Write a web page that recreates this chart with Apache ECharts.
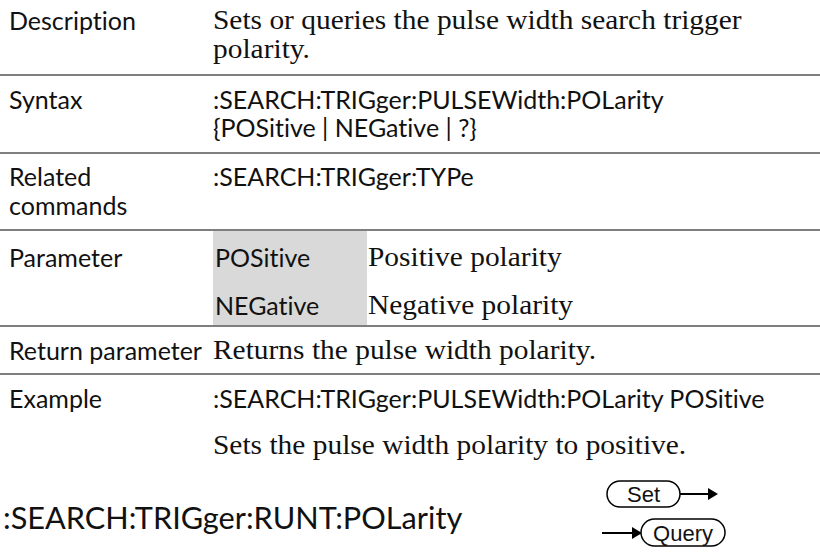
<!DOCTYPE html>
<html><head><meta charset="utf-8">
<script src="https://cdn.jsdelivr.net/npm/echarts@6/dist/echarts.min.js"></script>
<style>html,body{margin:0;padding:0;background:#fff}#c{width:820px;height:552px}
svg text{font-variant-ligatures:none !important;font-feature-settings:"liga" 0,"clig" 0 !important}</style>
</head><body><div id="c"></div>
<script>
// ---- content ----
const rowLabels = [["Description"], ["Syntax"], ["Related", "commands"], ["Parameter"], ["Return parameter"], ["Example"]];
const descLines = ["Sets or queries the pulse width search trigger", "polarity."];
const syntaxLines = [":SEARCH:TRIGger:PULSEWidth:POLarity", "{POSitive | NEGative | ?}"];
const relatedLines = [":SEARCH:TRIGger:TYPe"];
const paramNames = ["POSitive", "NEGative"];
const paramDescs = ["Positive polarity", "Negative polarity"];
const returnLines = ["Returns the pulse width polarity."];
const exampleCmd = [":SEARCH:TRIGger:PULSEWidth:POLarity POSitive"];
const exampleDesc = ["Sets the pulse width polarity to positive."];
const nextTitle = ":SEARCH:TRIGger:RUNT:POLarity";
const badges = ["Set", "Query"];

// ---- layout ----
const SANS = "Lato, sans-serif";
const SERIF = "'Liberation Serif', serif";
const sansFont = "25px " + SANS;
const serifFont = "27px " + SERIF;
const SERIF_SX = 1.09;
const SERIF_DY = -1.5, SANS_DY = -1;
const col1 = 9, col2 = 213, col3 = 368;
const els = [];
function txt(s, x, y, font, sx, align) {
  els.push({ type: 'text', z: 10, x: x, y: y, scaleX: sx || 1,
    style: { text: s, x: 0, y: 0, font: font, fill: '#111', verticalAlign: 'middle', align: align || 'left' } });
}
function serif(s, x, y) { txt(s, x, y + SERIF_DY, serifFont, SERIF_SX); }
function sans(s, x, y) { txt(s, x, y + SANS_DY, sansFont); }
function hline(y) {
  els.push({ type: 'line', z: 5, shape: { x1: 0, y1: y, x2: 820, y2: y }, style: { stroke: '#7f7f7f', lineWidth: 2 } });
}
const rowLabelY = [[21, 50], [100, 128], [177, 206], [258], [351], [399]];
rowLabels.forEach((ls, i) => ls.forEach((l, j) => sans(l, col1, rowLabelY[i][j])));
descLines.forEach((l, j) => serif(l, col2, rowLabelY[0][j]));
syntaxLines.forEach((l, j) => sans(l, col2, rowLabelY[1][j]));
relatedLines.forEach((l, j) => sans(l, col2, rowLabelY[2][j]));
const paramY = [258, 306];
paramNames.forEach((p, k) => {
  els.push({ type: 'rect', z: 1, shape: { x: 213, y: k === 0 ? 231 : 282, width: 154, height: k === 0 ? 51 : 43 }, style: { fill: '#d9d9d9' } });
  sans(p, col2 + 2, paramY[k]);
  serif(paramDescs[k], col3, paramY[k]);
});
returnLines.forEach((l) => serif(l, col2, 351));
exampleCmd.forEach((l) => sans(l, col2, 399));
exampleDesc.forEach((l) => serif(l, col2, 446));
[75, 153, 230, 326, 374].forEach(hline);
txt(nextTitle, 3, 517, "30.7px " + SANS);

// badges
function badge(label, x, y, w, h) {
  els.push({ type: 'rect', z: 6, shape: { x: x, y: y, width: w, height: h, r: h / 2 }, style: { fill: '#fff', stroke: '#000', lineWidth: 1.5 } });
  txt(label, x + w / 2, y + h / 2 + 0.5, "22px 'Liberation Sans', Arial, sans-serif", 1, 'center');
}
function arrow(x1, x2, y) {
  els.push({ type: 'line', z: 6, shape: { x1: x1, y1: y, x2: x2 - 8, y2: y }, style: { stroke: '#000', lineWidth: 2 } });
  els.push({ type: 'polygon', z: 6, shape: { points: [[x2 - 10, y - 6], [x2, y], [x2 - 10, y + 6]] }, style: { fill: '#000' } });
}
badge(badges[0], 607, 481, 73, 26);
arrow(680, 718, 494);
arrow(602, 642, 533);
badge(badges[1], 641, 519, 84, 27);

const chart = echarts.init(document.getElementById('c'), null, { renderer: 'svg' });
chart.setOption({ backgroundColor: '#fff', animation: false, graphic: { elements: els } });
</script></body></html>
